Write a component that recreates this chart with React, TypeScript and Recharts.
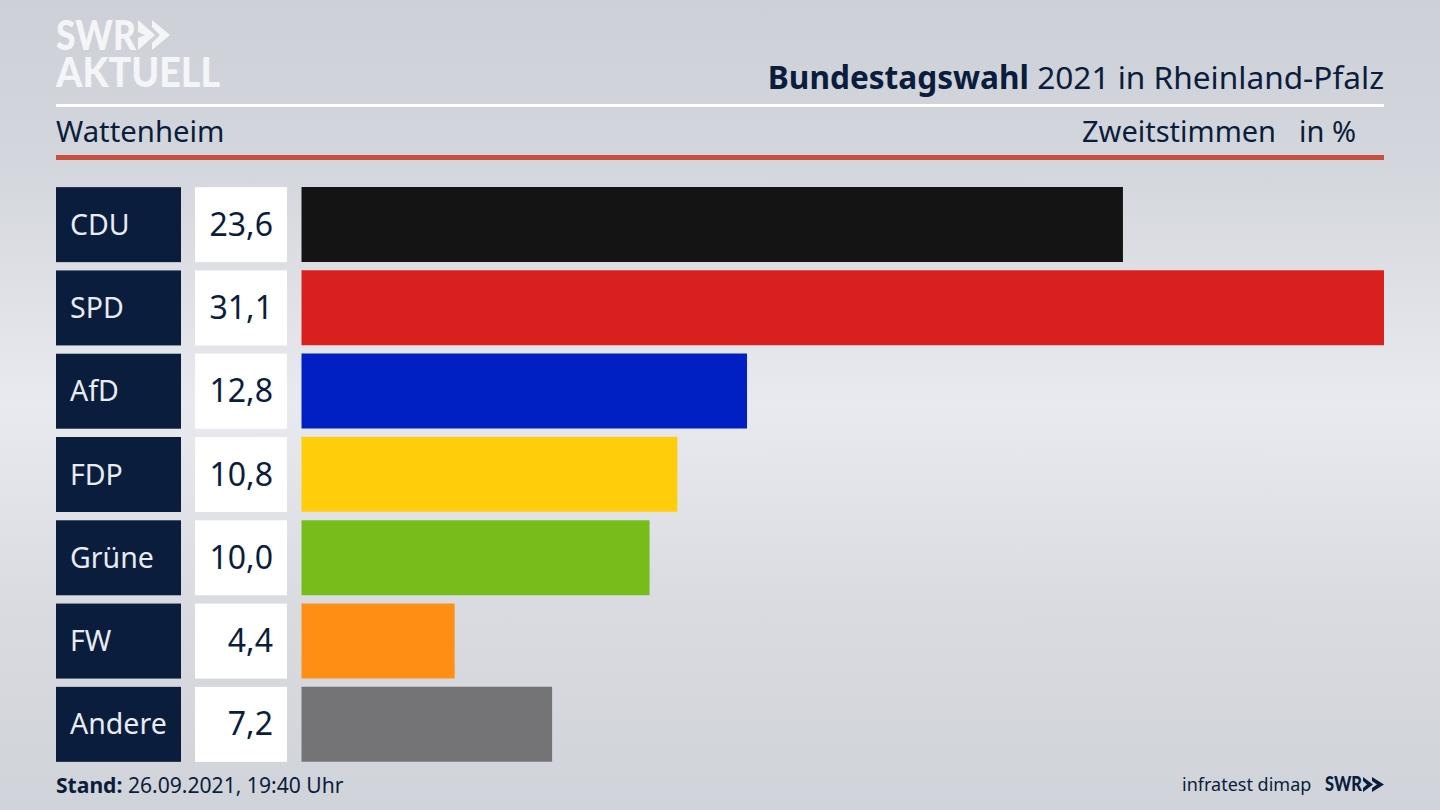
import type { JSX } from 'react';
import { BarChart, Bar, Cell, XAxis, YAxis } from 'recharts';

const parties = ['CDU', 'SPD', 'AfD', 'FDP', 'Grüne', 'FW', 'Andere'];
const shares = [23.6, 31.1, 12.8, 10.8, 10.0, 4.4, 7.2];
const partyColors = ['#141414', '#d9201f', '#0020c4', '#ffcd0a', '#78bc1b', '#ff8f14', '#747476'];

const rows = parties.map((party, index) => ({ party, share: shares[index] }));

const navy = '#0b1d3c';
const fontFamily = '"Noto Sans", sans-serif';

const formatShare = (value: number): string => value.toFixed(1).replace('.', ',');

const PartyTick = ({ y, payload, index }: any): JSX.Element => (
    <g>
        <rect x={56} y={y - 37.5} width={125} height={75} fill={navy} />
        <rect x={195} y={y - 37.5} width={92} height={75} fill="#ffffff" />
        <text x={70} y={y + 10} fontSize={28.5} fill="#e8ecf2" fontFamily={fontFamily}>{payload.value}</text>
        <text x={273} y={y + 11} fontSize={32} fill={navy} textAnchor="end" fontFamily={fontFamily}>{formatShare(shares[index])}</text>
    </g>
);

const textStyle = (left: number, top: number, size: number): React.CSSProperties => ({
    position: 'absolute',
    left,
    top,
    fontSize: size,
    lineHeight: 1,
    whiteSpace: 'nowrap',
    color: navy,
    fontFamily,
});

export default function App (): JSX.Element {
    return (
        <div style={{
            position: 'fixed',
            left: 0,
            top: 0,
            width: 1440,
            height: 810,
            overflow: 'hidden',
            background: 'linear-gradient(180deg, #cdd0d6 0%, #d3d6dc 20%, #e9eaef 50%, #d9dbe0 75%, #d0d3d9 100%)',
        }}>
            <svg width={200} height={90} style={{ position: 'absolute', left: 50, top: 10 }}>
                <text x={6} y={40} fontSize={41} fontWeight={900} fill="#f4f5f7" fontFamily="Lato, sans-serif" textLength={80} lengthAdjust="spacingAndGlyphs">SWR</text>
                <polygon points="88,14 88,22 95,25 88,28 88,36 88,40 105,25 88,10" fill="#f4f5f7" />
                <polygon points="102,10 120,25 102,40 102,33 110,25 102,17" fill="#f4f5f7" />
                <text x={6} y={77} fontSize={41} fontWeight={900} fill="#f4f5f7" fontFamily="Lato, sans-serif" textLength={164} lengthAdjust="spacingAndGlyphs">AKTUELL</text>
            </svg>
            <div style={{ position: 'absolute', left: 56, top: 104, width: 1328, height: 3, background: '#ffffff' }} />
            <div style={{ position: 'absolute', left: 56, top: 155, width: 1328, height: 5, background: '#c8503c' }} />
            <div style={{ ...textStyle(0, 61, 31.6), left: 'auto', right: 56 }}>
                <b>Bundestagswahl</b> 2021 in Rheinland-Pfalz
            </div>
            <div style={textStyle(56, 117, 29.3)}>Wattenheim</div>
            <div style={textStyle(1082, 116, 29)}>Zweitstimmen</div>
            <div style={textStyle(1299, 116, 29)}>in %</div>
            <div style={{ ...textStyle(56, 774, 21.1) }}><b>Stand:</b> 26.09.2021, 19:40 Uhr</div>
            <div style={{ ...textStyle(1182, 775, 18) }}>infratest dimap</div>
            <svg width={70} height={30} style={{ position: 'absolute', left: 1320, top: 770 }}>
                <text x={5} y={21} fontSize={21} fontWeight={900} fill={navy} fontFamily="Lato, sans-serif" textLength={37} lengthAdjust="spacingAndGlyphs">SWR</text>
                <polygon points="43,7 53,14.5 43,22 43,18 47,14.5 43,11" fill={navy} />
                <polygon points="52,7 64,14.5 52,22 52,18 57,14.5 52,11" fill={navy} />
            </svg>
            <div style={{ position: 'absolute', left: 0, top: 0 }}>
                <BarChart
                    width={1440}
                    height={810}
                    data={rows}
                    layout="vertical"
                    barSize={75}
                    margin={{ top: 183, right: 56, bottom: 44, left: 0 }}
                >
                    <XAxis type="number" domain={[0, 31.1]} hide />
                    <YAxis
                        type="category"
                        dataKey="party"
                        width={301.5}
                        axisLine={false}
                        tickLine={false}
                        interval={0}
                        tick={PartyTick}
                    />
                    <Bar dataKey="share" isAnimationActive={false}>
                        {partyColors.map((color) => <Cell key={color} fill={color} />)}
                    </Bar>
                </BarChart>
            </div>
        </div>
    );
}
